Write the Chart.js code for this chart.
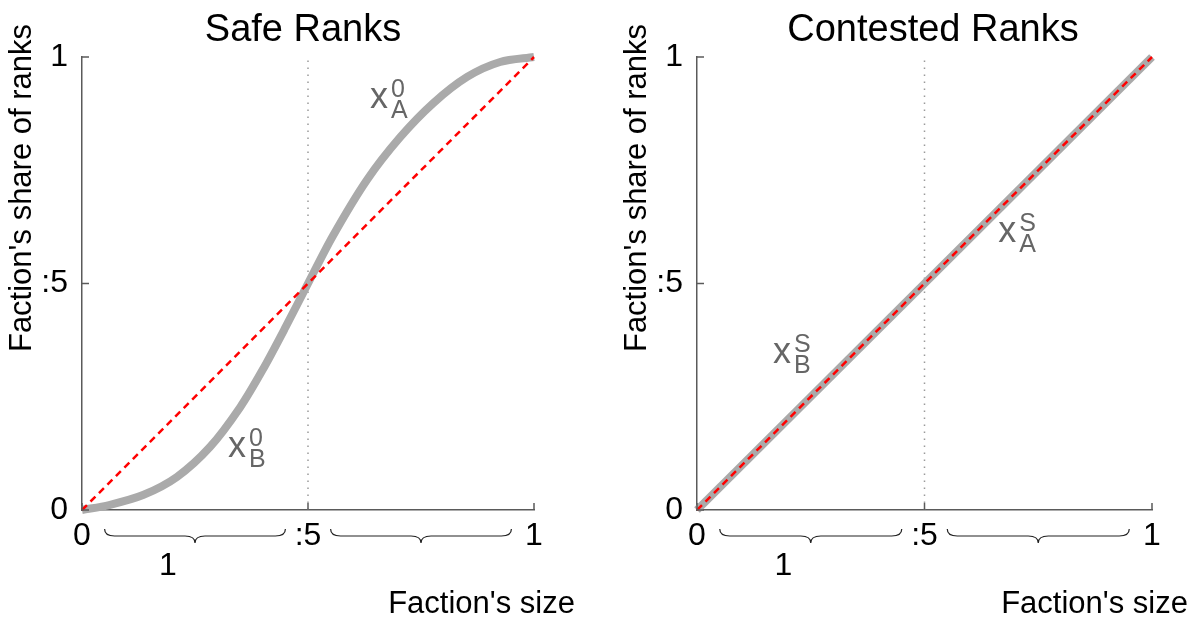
<!DOCTYPE html>
<html>
<head>
<meta charset="utf-8">
<script src="https://cdn.jsdelivr.net/npm/chart.js@4.4.1/dist/chart.umd.min.js"></script>
<style>
    html, body { margin: 0; padding: 0; background: #fff; }
    #wrap { position: relative; width: 1199px; height: 619px; }
    .panel { position: absolute; top: 0; height: 619px; }
</style>
</head>
<body>
<div id="wrap">
    <div class="panel" style="left:0;width:600px"><canvas id="safeChart"></canvas></div>
    <div class="panel" style="left:600px;width:599px"><canvas id="contestedChart"></canvas></div>
</div>
<script>
// Faction's size (x) vs share of ranks (y)
const safeSize  = [0, 0.06, 0.135, 0.21, 0.283, 0.35, 0.4, 0.45, 0.5, 0.555, 0.63, 0.704, 0.777, 0.852, 0.925, 1];
const safeShare = [0, 0.011, 0.033, 0.073, 0.139, 0.227, 0.31, 0.403, 0.5, 0.605, 0.728, 0.823, 0.898, 0.956, 0.989, 1];
const contestedSize  = [0, 1];
const contestedShare = [0, 1];
const diagSize  = [0, 1];
const diagShare = [0, 1];
const halfSize  = [0.5, 0.5];
const halfShare = [0, 1];

const tickValues = [0, 0.5, 1];
const tickLabels = ['0', ':5', '1'];
const panelTitles = ['Safe Ranks', 'Contested Ranks'];
const xTitle = "Faction's size";
const yTitle = "Faction's share of ranks";

// curve labels x_sub^sup, anchored at data coordinates
const safeLabels = [
    { sup: '0', sub: 'A', x: 0.637, y: 0.887 },
    { sup: '0', sub: 'B', x: 0.323, y: 0.117 }
];
const contestedLabels = [
    { sup: 'S', sub: 'A', x: 0.662, y: 0.592 },
    { sup: 'S', sub: 'B', x: 0.167, y: 0.325 }
];

const FONT = '"Liberation Sans", Arial, sans-serif';
const toPoints = (xs, ys) => xs.map((x, i) => ({ x: x, y: ys[i] }));

// draws titles, ticks, tick labels, braces and curve labels
const panelDecor = {
    id: 'panelDecor',
    afterDraw(chart, args, opts) {
        const { ctx, chartArea: area, scales: { x, y } } = chart;
        ctx.save();

        // inward ticks
        ctx.strokeStyle = '#5a5a5a';
        ctx.lineWidth = 1.5;
        tickValues.forEach(v => {
            const py = y.getPixelForValue(v);
            ctx.beginPath(); ctx.moveTo(area.left, py); ctx.lineTo(area.left + 7, py); ctx.stroke();
            const px = x.getPixelForValue(v);
            ctx.beginPath(); ctx.moveTo(px, area.bottom); ctx.lineTo(px, area.bottom - 7); ctx.stroke();
        });

        // tick labels
        ctx.fillStyle = '#000';
        ctx.font = '32px ' + FONT;
        ctx.textBaseline = 'middle';
        ctx.textAlign = 'right';
        tickValues.forEach((v, i) => ctx.fillText(tickLabels[i], area.left - 14, y.getPixelForValue(v)));
        ctx.textBaseline = 'alphabetic';
        ctx.textAlign = 'center';
        tickValues.forEach((v, i) => ctx.fillText(tickLabels[i], x.getPixelForValue(v), 545));

        // braces under the axis
        ctx.strokeStyle = '#222';
        ctx.lineWidth = 1.2;
        opts.braces.forEach(([a, b]) => {
            const x0 = x.getPixelForValue(a), x1 = x.getPixelForValue(b);
            const xm = (x0 + x1) / 2, r = 10;
            const yTop = 529, yBody = 536, yTip = 543;
            ctx.beginPath();
            ctx.moveTo(x0, yTop);
            ctx.quadraticCurveTo(x0, yBody, x0 + r, yBody);
            ctx.lineTo(xm - r, yBody);
            ctx.quadraticCurveTo(xm, yBody, xm, yTip);
            ctx.quadraticCurveTo(xm, yBody, xm + r, yBody);
            ctx.lineTo(x1 - r, yBody);
            ctx.quadraticCurveTo(x1, yBody, x1, yTop);
            ctx.stroke();
        });
        ctx.fillText('1', x.getPixelForValue(opts.braceLabelAt), 575);

        // panel title
        ctx.font = '38px ' + FONT;
        ctx.fillText(opts.title, opts.titleX, 41);

        // axis titles
        ctx.font = '31px ' + FONT;
        ctx.textAlign = 'right';
        ctx.fillText(xTitle, opts.xTitleRight, 613);
        ctx.save();
        ctx.translate(area.left - 60, 188);
        ctx.rotate(-Math.PI / 2);
        ctx.textAlign = 'center';
        ctx.textBaseline = 'middle';
        ctx.fillText(yTitle, 0, 0);
        ctx.restore();

        // curve labels
        ctx.fillStyle = '#666';
        ctx.textAlign = 'left';
        ctx.textBaseline = 'alphabetic';
        opts.labels.forEach(l => {
            const px = x.getPixelForValue(l.x), py = y.getPixelForValue(l.y);
            ctx.font = '36px ' + FONT;
            ctx.fillText('x', px, py);
            ctx.font = '25px ' + FONT;
            ctx.fillText(l.sup, px + 21, py - 11);
            ctx.fillText(l.sub, px + 21, py + 10);
        });

        ctx.restore();
    }
};

function makePanel(canvasId, sizes, shares, cfg) {
    return new Chart(document.getElementById(canvasId).getContext('2d'), {
        type: 'line',
        data: {
            datasets: [
                { data: toPoints(diagSize, diagShare), borderColor: '#ff0000', borderWidth: 2.5, borderDash: [7, 5], pointRadius: 0, order: 0 },
                { data: toPoints(sizes, shares), borderColor: '#aaaaaa', borderWidth: 8, tension: 0.3, pointRadius: 0, order: 1 },
                { data: toPoints(halfSize, halfShare), borderColor: '#9a9a9a', borderWidth: 1.5, borderDash: [1.5, 5.5], pointRadius: 0, order: 2 }
            ]
        },
        options: {
            responsive: true,
            maintainAspectRatio: false,
            animation: false,
            clip: false,
            layout: { padding: { left: 0, right: cfg.padRight, top: 57, bottom: 0 } },
            scales: {
                x: {
                    type: 'linear', min: 0, max: 1,
                    ticks: { display: false },
                    grid: { display: false },
                    border: { display: true, color: '#5a5a5a', width: 1.5 },
                    afterFit: (s) => { s.height = 109; }
                },
                y: {
                    type: 'linear', min: 0, max: 1,
                    ticks: { display: false },
                    grid: { display: false },
                    border: { display: true, color: '#5a5a5a', width: 1.5 },
                    afterFit: (s) => { s.width = cfg.axisLeft; }
                }
            },
            plugins: {
                legend: { display: false },
                tooltip: { enabled: false },
                panelDecor: {
                    title: cfg.title, titleX: cfg.titleX, xTitleRight: cfg.xTitleRight,
                    braces: [[0.05, 0.45], [0.55, 0.95]], braceLabelAt: 0.19,
                    labels: cfg.labels
                }
            }
        },
        plugins: [panelDecor]
    });
}

makePanel('safeChart', safeSize, safeShare, {
    title: panelTitles[0], titleX: 303, xTitleRight: 575, axisLeft: 82, padRight: 66, labels: safeLabels
});
makePanel('contestedChart', contestedSize, contestedShare, {
    title: panelTitles[1], titleX: 333, xTitleRight: 588, axisLeft: 97, padRight: 47, labels: contestedLabels
});
</script>
</body>
</html>
